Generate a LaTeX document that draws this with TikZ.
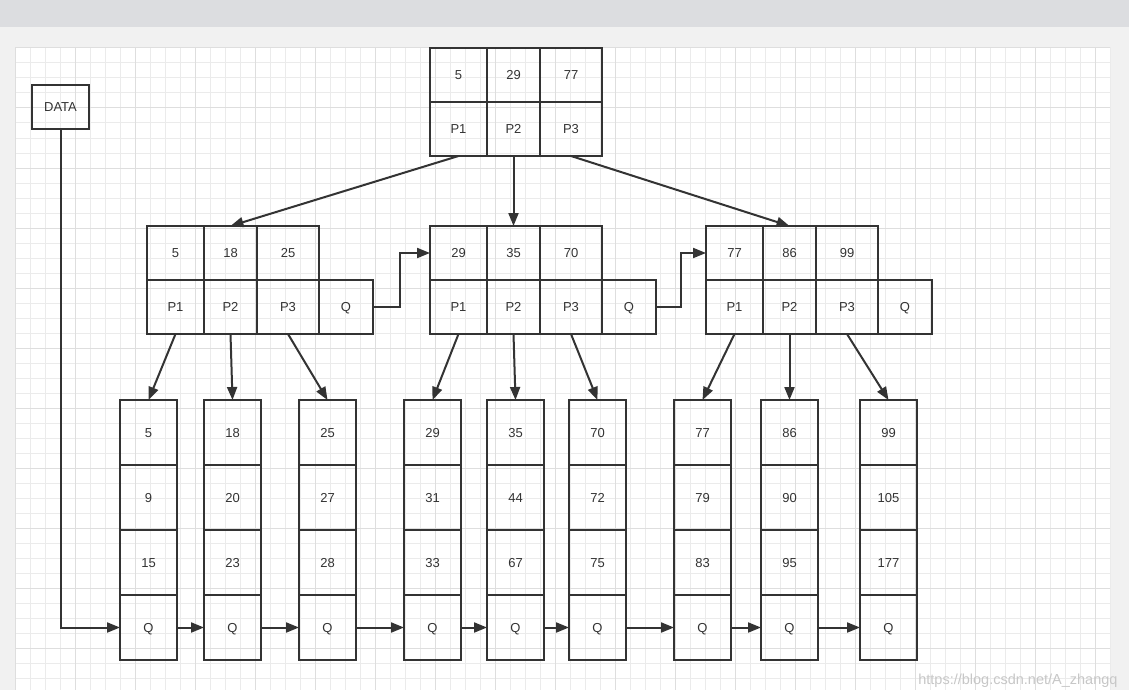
\documentclass[tikz,border=0pt]{standalone}
\usepackage{fontspec}
\setmainfont{Liberation Sans}
\usetikzlibrary{arrows.meta,positioning}
\definecolor{ink}{HTML}{333333}
\definecolor{topbar}{HTML}{DCDDE0}
\definecolor{backdrop}{HTML}{F1F1F1}
\definecolor{gridminor}{HTML}{EBEBEB}
\definecolor{gridmajor}{HTML}{DEDEDE}
\tikzset{
    box/.style  = {draw=ink, line width=2pt, outer sep=0pt, inner sep=0pt,
                   text=ink, font=\fontsize{13}{15}\selectfont,
                   text height=9.3pt, text depth=0pt},
    cell/.style = {box, minimum width=#1, minimum height=54pt},
    leaf/.style = {box, minimum width=57pt, minimum height=65pt},
    link/.style = {draw=ink, line width=2pt, -{Triangle[length=13pt, width=10pt]}}
}
\begin{document}
\begin{tikzpicture}[x=1pt, y=-1pt]
    \useasboundingbox (0,0) rectangle (1129,690);
    \fill [topbar  ] (0, 0) rectangle (1129, 27);
    \fill [backdrop] (0,27) rectangle (1129,690);
    \fill [white   ] (15,47) rectangle (1110,690);
    \begin{scope}[shift={(15,48)}]
        \draw [gridminor, line width=1pt, step=15pt] (0,-1) grid (1095,642);
        \draw [gridmajor, line width=1pt, step=60pt] (0,-1) grid (1095,642);
    \end{scope}

    \node [box, minimum width=57pt, minimum height=44pt, anchor=north west] (data) at (32,85) {DATA};

    \node [cell=57pt, anchor=north west] (r1) at (430,48) {5};
    \node [cell=53pt, right=0pt of r1] (r2) {29};
    \node [cell=62pt, right=0pt of r2] (r3) {77};
    \node [cell=57pt, below=0pt of r1] (rp1) {P1};
    \node [cell=53pt, right=0pt of rp1] (rp2) {P2};
    \node [cell=62pt, right=0pt of rp2] (rp3) {P3};

    \foreach \g/\x/\k/\l/\m in {a/147/5/18/25, b/430/29/35/70, c/706/77/86/99}{
        \node [cell=57pt, anchor=north west] (k\g1) at (\x,226) {\k};
        \node [cell=53pt, right=0pt of k\g1] (k\g2) {\l};
        \node [cell=62pt, right=0pt of k\g2] (k\g3) {\m};
        \node [cell=57pt, below=0pt of k\g1] (p\g1) {P1};
        \node [cell=53pt, right=0pt of p\g1] (p\g2) {P2};
        \node [cell=62pt, right=0pt of p\g2] (p\g3) {P3};
        \node [cell=54pt, right=0pt of p\g3] (q\g) {Q};
    }

    \foreach \i/\x/\k/\l/\m in {1/120/5/9/15, 2/204/18/20/23, 3/299/25/27/28,
                               4/404/29/31/33, 5/487/35/44/67, 6/569/70/72/75,
                               7/674/77/79/83, 8/761/86/90/95, 9/860/99/105/177}{
        \node [leaf, anchor=north west] (leaf\i-1) at (\x,400) {\k};
        \node [leaf, below=0pt of leaf\i-1] (leaf\i-2) {\l};
        \node [leaf, below=0pt of leaf\i-2] (leaf\i-3) {\m};
        \node [leaf, below=0pt of leaf\i-3] (leaf\i-q) {Q};
    }

    \draw [link] (rp1.south) -- (ka2.north);
    \draw [link] (rp2.south) -- (kb2.north);
    \draw [link] (rp3.south) -- (kc2.north);
    \draw [link] (qa.east) -- ++(27,0) |- (kb1.west);
    \draw [link] (qb.east) -- ++(25,0) |- (kc1.west);

    \foreach \p/\i in {pa1/1, pa2/2, pa3/3, pb1/4, pb2/5, pb3/6, pc1/7, pc2/8, pc3/9}
        \draw [link] (\p.south) -- (leaf\i-1.north);
    \foreach \i [count=\j from 2] in {1,...,8}
        \draw [link] (leaf\i-q.east) -- (leaf\j-q.west);
    \draw [link] (data.south) |- (leaf1-q.west);

    \node [anchor=south east, text=black!22, font=\fontsize{14.5}{17}\selectfont] (mark) at (1121,691) {https://blog.csdn.net/A\_zhangq};
\end{tikzpicture}
\end{document}
